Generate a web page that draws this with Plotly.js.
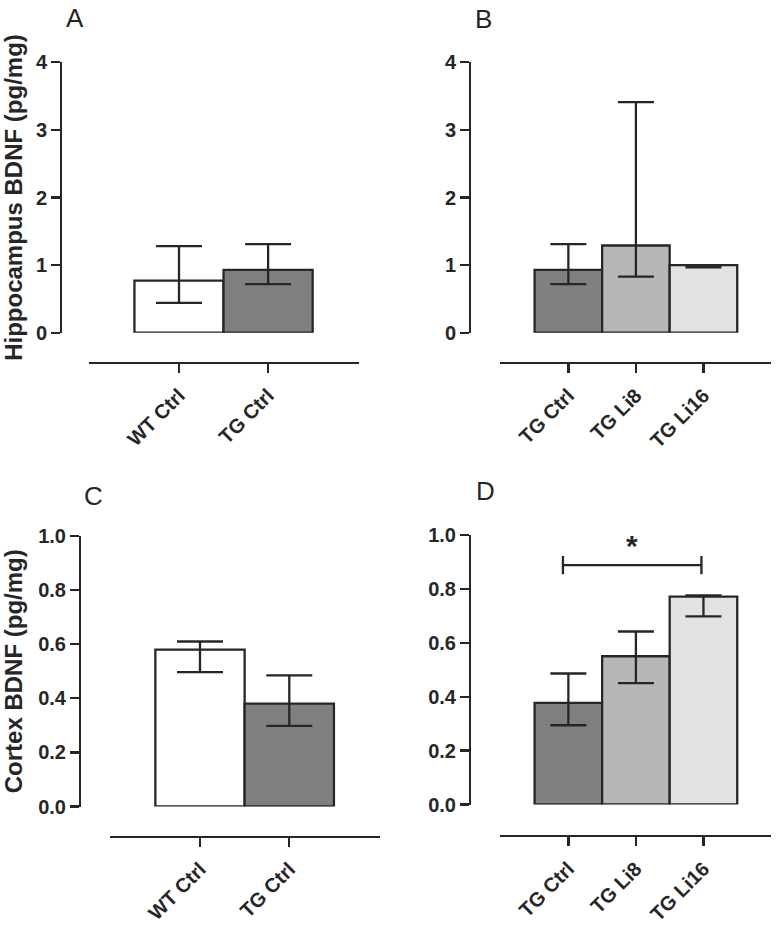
<!DOCTYPE html>
<html>
<head>
<meta charset="utf-8">
<script src="https://cdn.plot.ly/plotly-3.0.1.min.js"></script>
<style>html,body{margin:0;padding:0;background:#fff;}#chart{width:778px;height:926px;}</style>
</head>
<body>
<div id="chart"></div>
<script>
// ---- data ----
var groupsWT = ["WT Ctrl", "TG Ctrl"];
var groupsLi = ["TG Ctrl", "TG Li8", "TG Li16"];

// Hippocampus BDNF (pg/mg)
var hippoWTMean = [0.77, 0.93];
var hippoWTPlus = [0.51, 0.38];
var hippoWTMinus = [0.33, 0.21];

var hippoLiMean = [0.93, 1.29, 1.0];
var hippoLiPlus = [0.38, 2.12, 0.0];
var hippoLiMinus = [0.21, 0.46, 0.035];

// Cortex BDNF (pg/mg)
var cortexWTMean = [0.58, 0.38];
var cortexWTPlus = [0.03, 0.105];
var cortexWTMinus = [0.083, 0.082];

var cortexLiMean = [0.377, 0.55, 0.771];
var cortexLiPlus = [0.109, 0.092, 0.005];
var cortexLiMinus = [0.083, 0.10, 0.073];

// significance bracket in panel D (TG Ctrl vs TG Li16), x in group-index units
var sigBracketX = [-0.08, 1.97];
var sigBracketY = 0.888;
var sigCapHalf = 0.034;
var sigLabel = "*";

var hippoTicks = [0, 1, 2, 3, 4];
var cortexTicks = [0, 0.2, 0.4, 0.6, 0.8, 1.0];

// ---- style ----
var W = 778, H = 926;
var INK = "#262626";
var LW = 2.3;
var FONT = "Liberation Sans, Arial, Helvetica, sans-serif";
var colWT = ["#ffffff", "#808080"];
var colLi = ["#808080", "#b6b7b9", "#e1e2e4"];

function px(x) { return x / W; }
function py(y) { return 1 - y / H; }
function idx(arr) { return arr.map(function (_, i) { return i; }); }

function barTrace(groups, ys, plus, minus, colors, xa, ya, capw) {
  return {
    type: "bar", x: idx(groups), y: ys, width: 1, xaxis: xa, yaxis: ya,
    marker: { color: colors, line: { color: INK, width: LW } },
    error_y: { type: "data", symmetric: false, array: plus, arrayminus: minus,
               color: INK, thickness: LW, width: capw },
    hoverinfo: "skip", showlegend: false
  };
}

var traces = [
  barTrace(groupsWT, hippoWTMean, hippoWTPlus, hippoWTMinus, colWT, "x", "y", 23),
  barTrace(groupsLi, hippoLiMean, hippoLiPlus, hippoLiMinus, colLi, "x2", "y2", 18),
  barTrace(groupsWT, cortexWTMean, cortexWTPlus, cortexWTMinus, colWT, "x3", "y3", 23),
  barTrace(groupsLi, cortexLiMean, cortexLiPlus, cortexLiMinus, colLi, "x4", "y4", 18),
  {
    type: "scatter", mode: "lines", xaxis: "x4", yaxis: "y4",
    x: [sigBracketX[0], sigBracketX[0], null, sigBracketX[0], sigBracketX[1], null, sigBracketX[1], sigBracketX[1]],
    y: [sigBracketY - sigCapHalf, sigBracketY + sigCapHalf, null, sigBracketY, sigBracketY, null, sigBracketY - sigCapHalf, sigBracketY + sigCapHalf],
    line: { color: INK, width: LW }, hoverinfo: "skip", showlegend: false, cliponaxis: false
  }
];

var tickFont = { family: FONT, size: 20, color: INK, weight: "bold" };
var xTickFont = { family: FONT, size: 20, color: INK, weight: "bold" };
var titleFont = { family: FONT, size: 24, color: INK, weight: "bold" };

function xaxis(groups, domPx, posPx, range) {
  return {
    type: "linear", domain: [px(domPx[0]), px(domPx[1])], anchor: "free", position: py(posPx),
    range: range, showgrid: false, zeroline: false, showline: true,
    tickmode: "array", tickvals: idx(groups), ticktext: groups,
    linecolor: INK, linewidth: LW, ticks: "outside", ticklen: 9, tickwidth: LW, tickcolor: INK,
    tickangle: -45, tickfont: xTickFont, ticklabelstandoff: 3, fixedrange: true
  };
}
function yaxis(domPx, posPx, range, tickvals, fmt, title) {
  var a = {
    domain: [py(domPx[1]), py(domPx[0])], anchor: "free", position: px(posPx),
    range: range, showgrid: false, zeroline: false, showline: true,
    linecolor: INK, linewidth: LW, ticks: "outside", ticklen: 9, tickwidth: LW, tickcolor: INK,
    tickmode: "array", tickvals: tickvals, tickformat: fmt, tickfont: tickFont, fixedrange: true
  };
  if (title) a.title = { text: title, font: titleFont, standoff: 8 };
  return a;
}

var layout = {
  width: W, height: H, margin: { l: 0, r: 0, t: 0, b: 0 },
  paper_bgcolor: "#ffffff", plot_bgcolor: "rgba(0,0,0,0)",
  bargap: 0, showlegend: false, font: { family: FONT, color: INK },
  xaxis: xaxis(groupsWT, [89, 359], 362.7, [-1.01, 2.02]),
  yaxis: yaxis([62.3, 332.7], 61, [0, 4], hippoTicks, "d", "Hippocampus BDNF (pg/mg)"),
  xaxis2: xaxis(groupsLi, [500, 771], 362.7, [-1.012, 3.0]),
  yaxis2: yaxis([62.3, 332.7], 470, [0, 4], hippoTicks, "d", null),
  xaxis3: xaxis(groupsWT, [110, 380], 836.5, [-1.008, 2.016]),
  yaxis3: yaxis([536, 806.5], 80, [0, 1], cortexTicks, ".1f", "Cortex BDNF (pg/mg)"),
  xaxis4: xaxis(groupsLi, [500, 771], 836, [-1.012, 3.0]),
  yaxis4: yaxis([535, 804.5], 470, [0, 1], cortexTicks, ".1f", null),
  annotations: [
    { text: "A", xref: "paper", yref: "paper", x: px(75), y: py(18), showarrow: false, xanchor: "center", yanchor: "middle", font: { family: FONT, size: 26, color: INK } },
    { text: "B", xref: "paper", yref: "paper", x: px(483), y: py(18.5), showarrow: false, xanchor: "center", yanchor: "middle", font: { family: FONT, size: 26, color: INK } },
    { text: "C", xref: "paper", yref: "paper", x: px(93), y: py(496.5), showarrow: false, xanchor: "center", yanchor: "middle", font: { family: FONT, size: 26, color: INK } },
    { text: "D", xref: "paper", yref: "paper", x: px(485), y: py(490.5), showarrow: false, xanchor: "center", yanchor: "middle", font: { family: FONT, size: 26, color: INK } },
    { text: sigLabel, xref: "x4", yref: "y4", x: (sigBracketX[0] + sigBracketX[1]) / 2, y: 0.962, showarrow: false, xanchor: "center", yanchor: "middle", font: { family: FONT, size: 30, color: INK, weight: "bold" } }
  ]
};

Plotly.newPlot("chart", traces, layout, { staticPlot: true, displayModeBar: false });
</script>
</body>
</html>
